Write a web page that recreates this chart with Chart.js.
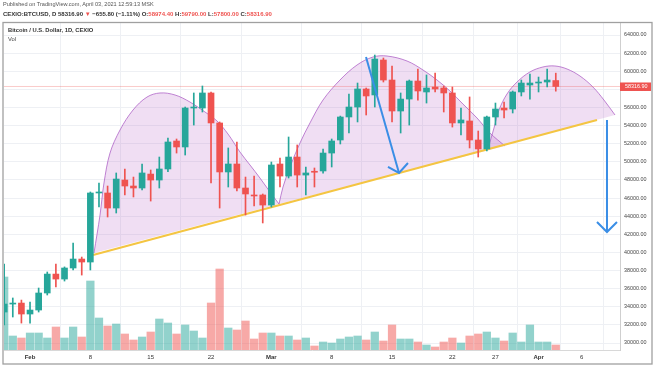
<!DOCTYPE html>
<html><head><meta charset="utf-8">
<script src="https://cdn.jsdelivr.net/npm/chart.js@4.4.1/dist/chart.umd.min.js"></script>
<style>
html,body{margin:0;padding:0;background:#fff;}
#wrap{position:relative;width:654px;height:366px;overflow:hidden;font-family:"Liberation Sans",Arial,sans-serif;}
canvas{position:absolute;left:0;top:0;}
.t{position:absolute;white-space:nowrap;line-height:1;}
.r{color:#ef5350;}
</style></head><body>
<div id="wrap">
<canvas id="c" width="654" height="366"></canvas>
<div class="t" style="left:3px;top:2px;font-size:5.6px;color:#555">Published on TradingView.com, April 03, 2021 12:59:13 MSK</div>
<div class="t" style="left:3px;top:11px;font-size:6px;color:#333;font-weight:bold">CEXIO:BTCUSD, D 58316.90 <span class="r">▼</span> −655.80 (−1.11%) O:<span class="r">58974.40</span> H:<span class="r">59790.00</span> L:<span class="r">57800.00</span> C:<span class="r">58316.90</span></div>
<div class="t" style="left:8px;top:28px;font-size:5.8px;color:#333;font-weight:bold">Bitcoin / U.S. Dollar, 1D, CEXIO</div>
<div class="t" style="left:8px;top:37px;font-size:5.8px;color:#444">Vol</div>
</div>
<script>
// ---- data ----
const dates = ['2021-01-29','2021-01-30','2021-01-31',
'2021-02-01','2021-02-02','2021-02-03','2021-02-04','2021-02-05','2021-02-06','2021-02-07','2021-02-08','2021-02-09','2021-02-10',
'2021-02-11','2021-02-12','2021-02-13','2021-02-14','2021-02-15','2021-02-16','2021-02-17','2021-02-18','2021-02-19','2021-02-20',
'2021-02-21','2021-02-22','2021-02-23','2021-02-24','2021-02-25','2021-02-26','2021-02-27','2021-02-28',
'2021-03-01','2021-03-02','2021-03-03','2021-03-04','2021-03-05','2021-03-06','2021-03-07','2021-03-08','2021-03-09','2021-03-10',
'2021-03-11','2021-03-12','2021-03-13','2021-03-14','2021-03-15','2021-03-16','2021-03-17','2021-03-18','2021-03-19','2021-03-20',
'2021-03-21','2021-03-22','2021-03-23','2021-03-24','2021-03-25','2021-03-26','2021-03-27','2021-03-28','2021-03-29','2021-03-30','2021-03-31',
'2021-04-01','2021-04-02','2021-04-03'];
const open = [33420,34300,34410,
33200,33640,35520,37610,37060,38280,39270,38940,46560,46560,
44900,47990,47330,47110,48650,47990,49210,52300,51640,55940,
55940,57600,54290,48880,49760,47110,46340,46340,
45230,49760,48430,50530,48540,48950,48990,50970,52410,54950,
56050,58040,57380,61240,59030,55610,56930,58920,57710,58260,
58150,57600,54290,54510,52410,51420,54950,55940,55830,57710,58480,
58700,58810,58974.40];
const high = [38720,34970,34740,
34520,36070,37840,38720,38400,41040,39490,46670,47660,47330,
48770,49210,48320,49760,49100,50530,52630,52520,56050,57600,
58370,57700,54400,51530,52190,48320,48430,46450,
49980,50420,52740,51860,49430,49320,51420,52520,55050,57490,
58700,58150,61790,61460,60580,57600,59030,60250,59590,59810,
58370,58260,55940,57160,53400,55050,56490,56600,57820,59030,59700,
59360,60250,59790.00];
const low = [32000,32870,32200,
32200,33420,35300,36180,36840,38060,37500,38060,45010,43910,
44350,46340,46120,46900,45670,47110,48900,50970,50750,54060,
55500,47660,44900,47220,46780,44130,45120,43250,
45010,47220,48210,47220,46340,47220,48760,49430,51970,53180,
54400,55170,56050,58810,54400,53180,54060,56820,56490,57710,
55500,53840,52960,51530,50530,51200,54060,54840,55390,57270,56930,
57710,58260,57800.00];
const close = [34300,34410,33200,
33640,35520,37610,37060,38280,39270,38940,46560,46610,44900,
48100,47330,47110,48770,47990,49210,52190,51640,55940,56050,
57600,54290,48880,49760,47110,46450,46230,45230,
49650,48430,50530,48540,48770,48850,50970,52300,54950,56050,
58040,57270,61350,59030,55610,56930,58920,57820,58150,58040,
57600,54290,54620,52410,51420,54950,55830,55720,57710,58700,58700,
58810,59030,58316.90];
const volume = [73,14,12,
17,17,12,23,12,23,13,69,32,24,
26,16,10,13,18,31,27,16,25,19,
12,47,81,22,20,29,11,17,
17,14,14,10,12,4,8,7,11,13,
14,10,18,9,25,11,11,8,5,3,
8,12,7,14,16,18,12,9,17,8,25,
8,8,5];
const lastPrice = 58316.90;
const xTickDates = ['2021-02-01','2021-02-08','2021-02-15','2021-02-22','2021-03-01','2021-03-08','2021-03-15','2021-03-22','2021-03-27','2021-04-01','2021-04-06'];
const xTickLabels = ['Feb','8','15','22','Mar','8','15','22','27','Apr','6'];
const yTickValues = [30000,32000,34000,36000,38000,40000,42000,44000,46000,48000,50000,52000,54000,56000,58000,60000,62000,64000];
// drawings: [day offset from Feb 1, price]
const trendLine = [[7.31,39710],[65.78,54620]];
const arc1 = [[7.42,39930],[8.12,44130],[8.58,47660],[9.28,50970],[10.44,53510],[11.95,55720],[13.57,57150],[15.08,57600],[16.82,57380],[18.56,56600],[20.30,55500],[21.69,54510],[22.97,53070],[24.36,51080],[25.52,49650],[26.68,48210],[27.84,46670],[28.89,45340]];
const arc2 = [[28.89,45340],[29.35,47220],[30.16,49430],[31.32,52080],[32.48,54290],[33.99,56820],[35.96,59030],[37.94,60690],[39.79,61570],[41.42,61680],[43.74,61130],[45.59,60140],[47.22,59030],[48.72,57820],[50.23,56380],[51.86,54840],[53.36,53180],[55.10,51750]];
const arc3 = [[53.13,51420],[53.83,53730],[54.41,55720],[55.34,57490],[56.50,58810],[58.00,59920],[59.51,60470],[60.90,60580],[62.30,60250],[63.81,59470],[65.31,58260],[66.59,56820],[67.87,55170]];
const arrow1 = [[38.98,61570],[42.81,48770]];
const arrow1Head = [[41.53,49430],[42.81,48770],[43.85,49870]];
const arrow2 = [[66.94,54620],[66.94,42250]];
const arrow2Head = [[65.78,43360],[66.94,42250],[68.10,43360]];

// ---- build ----
const DAY0 = Date.UTC(2021,1,1);
const dayOf = s => (Date.parse(s+'T00:00:00Z') - DAY0) / 86400000;
const xs = dates.map(dayOf);
const xTickDays = xTickDates.map(dayOf);
const up = close.map((c,i) => c >= open[i]);
const GREEN = '#26a69a', RED = '#ef5350';
const pts = a => a.map(p => ({x:p[0], y:p[1]}));
const X_MIN = -3.02, X_MAX = 68.45;

const lineDs = (data, color, width, order, extra) => Object.assign({
  type:'line', data: pts(data), borderColor: color, borderWidth: width,
  pointRadius: 0, fill: false, tension: 0, order, yAxisID:'y'
}, extra || {});

const framePlugin = {
  id:'frame',
  afterDraw(chart){
    const ctx = chart.ctx, ys = chart.scales.y, ca = chart.chartArea;
    const py = ys.getPixelForValue(lastPrice);
    ctx.save();
    ctx.fillStyle = RED;
    ctx.fillRect(ca.right, py-4, 31, 8.5);
    ctx.fillStyle = '#fff';
    ctx.font = '5.4px "Liberation Sans", Arial, sans-serif';
    ctx.textBaseline = 'middle';
    ctx.fillText(lastPrice.toFixed(2), ca.right + 5, py + 0.3);
    ctx.strokeStyle = '#a0a0a0';
    ctx.lineWidth = 1.3;
    ctx.strokeRect(3, 22.5, 649, 341.5);
    ctx.restore();
  }
};

new Chart(document.getElementById('c'), {
  type:'bar',
  data:{ datasets:[
    { type:'bar', yAxisID:'yv', data: xs.map((x,i)=>({x, y: volume[i]})),
      backgroundColor: up.map(u => u ? 'rgba(38,166,154,0.5)' : 'rgba(239,83,80,0.5)'),
      barThickness: 7.6, grouped:false, order: 20 },
    lineDs(arc1, 'rgba(171,92,196,0.75)', 1, 15, {fill:'shape', backgroundColor:'rgba(186,104,200,0.22)', tension:0.35}),
    lineDs(arc2, 'rgba(171,92,196,0.75)', 1, 15, {fill:'shape', backgroundColor:'rgba(186,104,200,0.22)', tension:0.35}),
    lineDs(arc3, 'rgba(171,92,196,0.75)', 1, 15, {fill:'shape', backgroundColor:'rgba(186,104,200,0.22)', tension:0.35}),
    lineDs([[X_MIN,lastPrice],[X_MAX,lastPrice]], 'rgba(239,83,80,0.3)', 1, 14),
    lineDs(trendLine, '#f4c542', 2, 12),
    { type:'bar', yAxisID:'y', data: xs.map((x,i)=>({x, y:[low[i], high[i]]})),
      backgroundColor: up.map(u => u ? GREEN : RED), barThickness: 1, grouped:false, order: 6 },
    { type:'bar', yAxisID:'y', data: xs.map((x,i)=>({x, y:[open[i], close[i]]})),
      backgroundColor: up.map(u => u ? GREEN : RED), barThickness: 6, grouped:false, minBarLength:1, order: 5 },
    lineDs(arrow1, '#3a8ee6', 2, 2),
    lineDs(arrow1Head, '#3a8ee6', 2, 2),
    lineDs(arrow2, '#3a8ee6', 2, 2),
    lineDs(arrow2Head, '#3a8ee6', 2, 2)
  ]},
  options:{
    responsive:false, animation:false, devicePixelRatio:1,
    layout:{ padding:{ left:4, top:23, right:2, bottom:2 } },
    plugins:{ legend:{display:false}, tooltip:{enabled:false} },
    scales:{
      x:{ type:'linear', min:X_MIN, max:X_MAX, offset:false,
        afterBuildTicks: s => { s.ticks = xTickDays.map(v => ({value:v})); },
        afterFit: s => { s.height = 14; },
        grid:{ color:'#eef0f4', drawTicks:false },
        border:{ color:'#d8d8d8' },
        ticks:{ padding:4, maxRotation:0, autoSkip:false, color:'#333',
          callback:(v,i) => xTickLabels[i],
          font: c => ({ size:6, family:'"Liberation Sans", Arial, sans-serif',
            weight: (c.index===0||c.index===4||c.index===9) ? 'bold' : 'normal' }) } },
      y:{ type:'linear', position:'right', min:29228, max:65325,
        afterBuildTicks: s => { s.ticks = yTickValues.map(v => ({value:v})); },
        afterFit: s => { s.width = 32; },
        grid:{ color:'#eef0f4', drawTicks:false },
        border:{ color:'#cfcfcf' },
        ticks:{ padding:4, color:'#444', callback: v => Number(v).toFixed(2),
          font:{ size:5.4, family:'"Liberation Sans", Arial, sans-serif' } } },
      yv:{ type:'linear', display:false, min:0, max:327, grid:{display:false} }
    }
  },
  plugins:[framePlugin]
});
</script>
</body></html>
